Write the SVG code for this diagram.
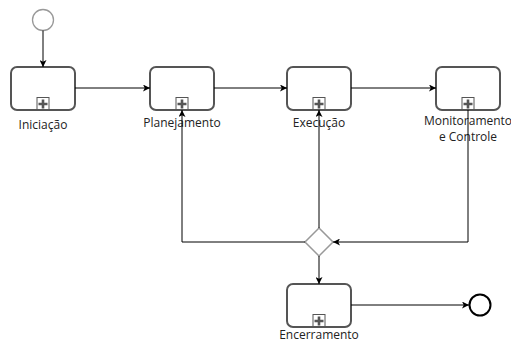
<svg xmlns="http://www.w3.org/2000/svg" width="511" height="342" viewBox="0 0 511 342">
<style>
.task{fill:#fff;stroke:#555;stroke-width:2}
.mk{fill:#fff;stroke:#555;stroke-width:1}
.plus{fill:#555}
.lbl{font-family:"Open Sans",sans-serif;font-size:12px;fill:#222;text-anchor:middle}
.edge{fill:none;stroke:#000;stroke-width:1}
</style>
<defs>
<marker id="arr" viewBox="0 0 10 10" refX="10" refY="5" markerWidth="7" markerHeight="7" orient="auto" markerUnits="userSpaceOnUse">
<path d="M0,0 L10,5 L0,10 L2.5,5 Z" fill="#000"/>
</marker>
<g id="sub">
<rect class="mk" x="-6" y="-12.5" width="12" height="12"/>
<path class="plus" d="M-1.3,-10.5h2.6v3.2h3.2v2.6h-3.2v3.2h-2.6v-3.2h-3.2v-2.6h3.2z"/>
</g>
</defs>
<g id="start"><circle cx="43" cy="20" r="10.5" fill="#fff" stroke="#999" stroke-width="1.3"/></g>
<g id="iniciacao">
<rect class="task" x="11" y="67" width="64" height="43" rx="6"/>
<use href="#sub" x="43" y="110"/>
<text class="lbl" x="43" y="129">Iniciação</text>
</g>
<g id="planejamento">
<rect class="task" x="150" y="67" width="64" height="43" rx="6"/>
<use href="#sub" x="182" y="110"/>
<text class="lbl" x="182" y="127">Planejamento</text>
</g>
<g id="execucao">
<rect class="task" x="287" y="67" width="64" height="43" rx="6"/>
<use href="#sub" x="319" y="110"/>
<text class="lbl" x="319" y="127">Execução</text>
</g>
<g id="monitoramento">
<rect class="task" x="436" y="67" width="64" height="43" rx="6"/>
<use href="#sub" x="468" y="110"/>
<text class="lbl" x="468" y="125">Monitoramento</text>
<text class="lbl" x="468" y="141">e Controle</text>
</g>
<g id="gateway"><path d="M319,228 L333,242 L319,256 L305,242 Z" fill="#fff" stroke="#999" stroke-width="1.5"/></g>
<g id="encerramento">
<rect class="task" x="287" y="284" width="64" height="43" rx="6"/>
<use href="#sub" x="319" y="327"/>
<text class="lbl" x="319" y="339">Encerramento</text>
</g>
<g id="end"><circle cx="480" cy="305" r="10.5" fill="#fff" stroke="#000" stroke-width="2"/></g>
<g id="connectors">
<path class="edge" d="M43,30.5 L43,67" marker-end="url(#arr)"/>
<path class="edge" d="M75,88 L150,88" marker-end="url(#arr)"/>
<path class="edge" d="M214,88 L287,88" marker-end="url(#arr)"/>
<path class="edge" d="M351,88 L436,88" marker-end="url(#arr)"/>
<path class="edge" d="M468,110 L468,242 L333,242" marker-end="url(#arr)"/>
<path class="edge" d="M305,242 L182,242 L182,110" marker-end="url(#arr)"/>
<path class="edge" d="M319,228 L319,110" marker-end="url(#arr)"/>
<path class="edge" d="M319,256 L319,284" marker-end="url(#arr)"/>
<path class="edge" d="M351,305 L469,305" marker-end="url(#arr)"/>
</g>
</svg>
